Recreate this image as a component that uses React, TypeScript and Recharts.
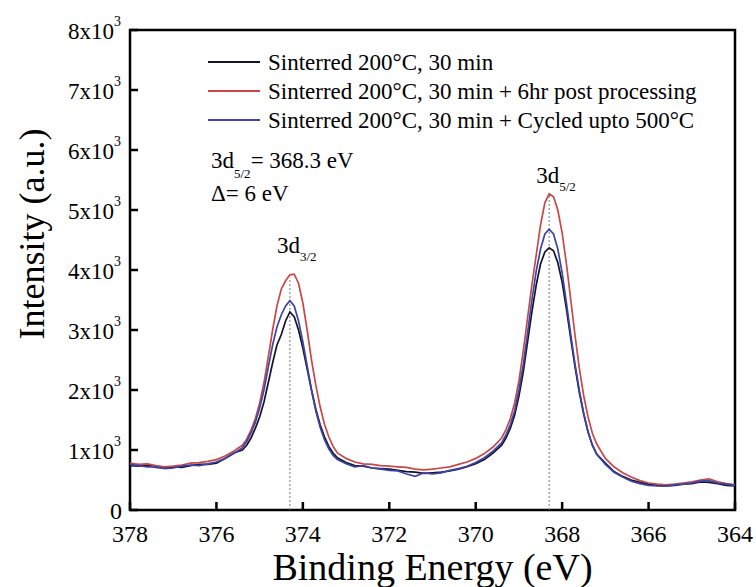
import { LineChart, Line, XAxis, YAxis, ReferenceArea, ReferenceLine, Legend } from 'recharts';

const FONT = "'Liberation Serif', 'Times New Roman', Times, serif";
const txt = { fontFamily: FONT };

// binding energy grid (eV), finer around the two Sn 3d peaks
const energy = [
  378.0, 377.8, 377.6, 377.4, 377.2, 377.0, 376.8, 376.6, 376.4, 376.2, 376.0, 375.8, 375.6,
  375.4, 375.3, 375.2, 375.1, 375.0, 374.9, 374.8, 374.7, 374.6, 374.5, 374.4, 374.3, 374.2, 374.1, 374.0, 373.9, 373.8, 373.7, 373.6, 373.5, 373.4, 373.3, 373.2,
  373.0, 372.8, 372.6, 372.4, 372.2, 372.0, 371.8, 371.6, 371.4, 371.2, 371.0, 370.8, 370.6, 370.4, 370.2, 370.0, 369.8, 369.6,
  369.4, 369.3, 369.2, 369.1, 369.0, 368.9, 368.8, 368.7, 368.6, 368.5, 368.4, 368.3, 368.2, 368.1, 368.0, 367.9, 367.8, 367.7, 367.6, 367.5, 367.4, 367.3, 367.2,
  367.0, 366.8, 366.6, 366.4, 366.2, 366.0, 365.8, 365.6, 365.4, 365.2, 365.0, 364.8, 364.6, 364.4, 364.2, 364.0,
];

// intensities in units of 10^3
const sintered = [
  0.74, 0.73, 0.75, 0.71, 0.70, 0.72, 0.71, 0.74, 0.76, 0.76, 0.78, 0.86, 0.95,
  1.00, 1.08, 1.20, 1.36, 1.55, 1.80, 2.12, 2.45, 2.75, 2.92, 3.15, 3.30, 3.22, 3.00, 2.70, 2.35, 2.00, 1.68, 1.42, 1.22, 1.06, 0.95, 0.87,
  0.79, 0.74, 0.73, 0.70, 0.69, 0.68, 0.66, 0.64, 0.63, 0.61, 0.62, 0.63, 0.65, 0.68, 0.72, 0.77, 0.84, 0.95,
  1.08, 1.20, 1.36, 1.58, 1.90, 2.30, 2.80, 3.30, 3.75, 4.10, 4.30, 4.37, 4.32, 4.12, 3.80, 3.35, 2.85, 2.38, 1.95, 1.60, 1.30, 1.08, 0.93,
  0.78, 0.64, 0.56, 0.50, 0.46, 0.43, 0.41, 0.40, 0.41, 0.43, 0.44, 0.47, 0.46, 0.44, 0.41, 0.40,
];

const postProcessed = [
  0.78, 0.76, 0.77, 0.74, 0.72, 0.73, 0.75, 0.78, 0.79, 0.81, 0.84, 0.90, 0.98,
  1.08, 1.18, 1.33, 1.52, 1.78, 2.12, 2.55, 3.00, 3.40, 3.68, 3.82, 3.92, 3.93, 3.78, 3.45, 3.00, 2.50, 2.08, 1.72, 1.43, 1.22, 1.06, 0.95,
  0.86, 0.80, 0.77, 0.76, 0.74, 0.73, 0.72, 0.71, 0.68, 0.67, 0.68, 0.70, 0.72, 0.76, 0.80, 0.86, 0.94, 1.05,
  1.20, 1.34, 1.52, 1.78, 2.15, 2.65, 3.20, 3.75, 4.25, 4.75, 5.12, 5.27, 5.22, 5.00, 4.62, 4.10, 3.50, 2.90, 2.35, 1.90, 1.55, 1.28, 1.10,
  0.86, 0.72, 0.62, 0.55, 0.49, 0.45, 0.43, 0.42, 0.43, 0.45, 0.47, 0.50, 0.52, 0.47, 0.44, 0.42,
];

const cycled = [
  0.76, 0.74, 0.72, 0.72, 0.69, 0.70, 0.73, 0.75, 0.74, 0.77, 0.80, 0.86, 0.94,
  1.04, 1.14, 1.28, 1.46, 1.70, 2.00, 2.38, 2.75, 3.05, 3.25, 3.40, 3.49, 3.40, 3.15, 2.80, 2.40, 2.00, 1.65, 1.38, 1.17, 1.02, 0.91, 0.84,
  0.77, 0.72, 0.74, 0.70, 0.68, 0.66, 0.65, 0.60, 0.56, 0.62, 0.60, 0.62, 0.66, 0.69, 0.73, 0.79, 0.87, 0.98,
  1.12, 1.25, 1.42, 1.65, 2.00, 2.42, 2.95, 3.50, 3.98, 4.35, 4.60, 4.68, 4.60, 4.35, 3.95, 3.45, 2.92, 2.42, 1.98, 1.60, 1.30, 1.08, 0.93,
  0.76, 0.63, 0.55, 0.48, 0.44, 0.41, 0.40, 0.40, 0.42, 0.43, 0.45, 0.48, 0.49, 0.45, 0.43, 0.41,
];

const xTicks = [378, 376, 374, 372, 370, 368, 366, 364];
const yTicks = [0, 1, 2, 3, 4, 5, 6, 7, 8];

const seriesNames = [
  'Sinterred 200°C, 30 min',
  'Sinterred 200°C, 30 min + 6hr post processing',
  'Sinterred 200°C, 30 min + Cycled upto 500°C',
];

const data = energy.map((e, i) => ({ e, s1: sintered[i], s2: postProcessed[i], s3: cycled[i] }));

function XTick({ x, payload }: any) {
  return (
    <g>
      <line x1={x} x2={x} y1={510} y2={502} stroke="#000" strokeWidth={2.5} />
      <text x={x} y={542} textAnchor="middle" fontSize={24} style={txt} fill="#000">
        {payload.value}
      </text>
    </g>
  );
}

function YTick({ y, payload }: any) {
  const v = payload.value;
  return (
    <g>
      <line x1={130} x2={138} y1={y} y2={y} stroke="#000" strokeWidth={2.5} />
      {v === 0 ? (
        <text x={122} y={y + 9} textAnchor="end" fontSize={24} style={txt} fill="#000">0</text>
      ) : (
        <text x={121} y={y + 9} textAnchor="end" fontSize={23} style={txt} fill="#000">
          {v}x10<tspan dy={-13} fontSize={14}>3</tspan>
        </text>
      )}
    </g>
  );
}

function XTitle({ viewBox }: any) {
  const cx = viewBox.x + viewBox.width / 2;
  return (
    <text x={cx} y={580} textAnchor="middle" fontSize={38} style={txt} fill="#000">
      Binding Energy (eV)
    </text>
  );
}

function YTitle() {
  return (
    <text x={44} y={234} transform="rotate(-90, 44, 234)" textAnchor="middle" fontSize={36} style={txt} fill="#000">
      Intensity (a.u.)
    </text>
  );
}

function PeakLabel({ viewBox, sub, dx, dy }: any) {
  const x = viewBox.x + dx;
  const y = viewBox.y + dy;
  return (
    <text x={x} y={y} fontSize={23} style={txt} fill="#000">
      3d<tspan dy={8} fontSize={13}>{sub}</tspan>
    </text>
  );
}

function LegendBox({ payload }: any) {
  const items = payload || [];
  return (
    <svg width={540} height={175} style={{ display: 'block', overflow: 'visible' }}>
      {items.map((p: any, i: number) => (
        <g key={p.value}>
          <line x1={8} x2={60} y1={22 + i * 29} y2={22 + i * 29} stroke={p.color} strokeWidth={2} />
          <text x={68} y={30 + i * 29} fontSize={23} style={txt} fill="#000">{p.value}</text>
        </g>
      ))}
      <text x={11} y={128} fontSize={23} style={txt} fill="#000">
        3d<tspan dy={10} fontSize={13}>5/2</tspan><tspan dy={-10}>= 368.3 eV</tspan>
      </text>
      <text x={11} y={161} fontSize={23} style={txt} fill="#000">Δ= 6 eV</text>
    </svg>
  );
}

export default function App() {
  return (
    <div style={{ position: 'absolute', left: 0, top: 0, width: 756, height: 587, background: '#fff', fontFamily: FONT }}>
      <LineChart width={756} height={587} data={data} margin={{ top: 30, right: 21, bottom: 0, left: 0 }}>
        <XAxis
          dataKey="e"
          type="number"
          domain={[364, 378]}
          reversed
          ticks={xTicks}
          interval={0}
          axisLine={false}
          tickLine={false}
          tickSize={0}
          tickMargin={0}
          height={77}
          tick={<XTick />}
          label={<XTitle />}
        />
        <YAxis
          type="number"
          domain={[0, 8]}
          ticks={yTicks}
          interval={0}
          width={130}
          axisLine={false}
          tickLine={false}
          tickSize={0}
          tickMargin={0}
          tick={<YTick />}
          label={<YTitle />}
        />
        <ReferenceLine
          segment={[{ x: 374.3, y: 0 }, { x: 374.3, y: 3.87 }]}
          stroke="#777"
          strokeWidth={1}
          strokeDasharray="2 2"
          label={<PeakLabel sub="3/2" dx={-13} dy={-25} />}
        />
        <ReferenceLine
          segment={[{ x: 368.3, y: 0 }, { x: 368.3, y: 5.25 }]}
          stroke="#777"
          strokeWidth={1}
          strokeDasharray="2 2"
          label={<PeakLabel sub="5/2" dx={-13} dy={-12} />}
        />
        <Line type="linear" dataKey="s1" name={seriesNames[0]} stroke="#141428" strokeWidth={1.7} dot={false} isAnimationActive={false} />
        <Line type="linear" dataKey="s2" name={seriesNames[1]} stroke="#c84848" strokeWidth={1.7} dot={false} isAnimationActive={false} />
        <Line type="linear" dataKey="s3" name={seriesNames[2]} stroke="#3c44a8" strokeWidth={1.7} dot={false} isAnimationActive={false} />
        <ReferenceArea x1={378} x2={364} y1={0} y2={8} fill="none" stroke="#000" strokeWidth={2.5} />
        <Legend
          layout="vertical"
          align="center"
          verticalAlign="middle"
          content={<LegendBox />}
          wrapperStyle={{ left: 200, top: 40, width: 540, height: 175 }}
        />
      </LineChart>
    </div>
  );
}
